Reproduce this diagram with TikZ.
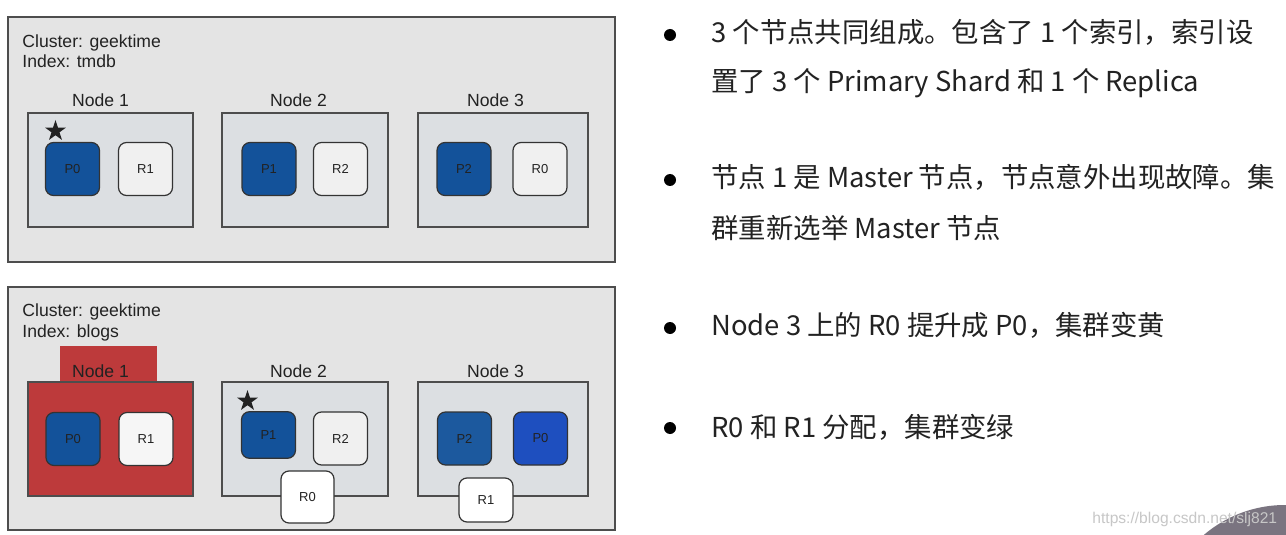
\documentclass[tikz,border=0pt]{standalone}
\usepackage{fontspec}
\setmainfont{Liberation Sans}
\newfontfamily\cjk{Noto Sans CJK SC}
\usepackage{tikz}
\usetikzlibrary{shapes.geometric}
\definecolor{panelgray}{HTML}{E4E4E4}
\definecolor{hostgray}{HTML}{DCDFE2}
\definecolor{edgegray}{HTML}{4D4D4D}
\definecolor{primblue}{HTML}{13529A}
\definecolor{promoblue}{HTML}{1E4FBF}
\definecolor{downred}{HTML}{BD3A3B}
\definecolor{replgray}{HTML}{F0F0F0}
\definecolor{inkgray}{HTML}{222222}
\definecolor{cornergray}{HTML}{7A7480}

\begin{document}
\begin{tikzpicture}[x=0.5pt,y=-0.5pt,
  panel/.style={draw=edgegray,fill=panelgray,line width=0.6pt,inner sep=0pt},
  hostbox/.style={draw=edgegray,fill=hostgray,line width=0.6pt,inner sep=0pt,minimum height=57pt},
  shard/.style={draw=black!80,rounded corners=4pt,line width=0.6pt,minimum width=27pt,minimum height=26.5pt,inner sep=0pt,text=inkgray,font=\fontsize{6.5}{7}\selectfont},
  primary/.style={shard,fill=primblue},
  replica/.style={shard,fill=replgray},
  master/.style={star,star points=5,star point ratio=2.6,fill=inkgray,minimum size=11pt,inner sep=0pt},
  caption/.style={anchor=base west,inner sep=0pt,text=inkgray,font=\fontsize{8.8}{10}\selectfont},
  hostlabel/.style={anchor=base,text=inkgray,font=\fontsize{8.8}{10}\selectfont},
  dot/.style={circle,fill=black,minimum size=6pt,inner sep=0pt},
  bulletline/.style={anchor=base west,inner sep=0pt,text=inkgray,font=\cjk\fontsize{13.7}{16}\selectfont}]
\useasboundingbox[fill=white] (0,0) rectangle (1286,535);

% top cluster: index tmdb
\node[panel,minimum width=303.5pt,minimum height=122.5pt] (top) at (311.5,139.5) {};
\node[caption] (topclu) at (22,48) {Cluster: geektime};
\node[caption] (topidx) at (22,68) {Index: tmdb};
\node[hostlabel] (toplab1) at (100.5,107) {Node 1};
\node[hostlabel] (toplab2) at (298.5,107) {Node 2};
\node[hostlabel] (toplab3) at (495.5,107) {Node 3};
\node[hostbox,minimum width=82.5pt] (top1) at (110.5,170) {};
\node[hostbox,minimum width=83pt] (top2) at (305,170) {};
\node[hostbox,minimum width=85pt] (top3) at (503,170) {};
\node[master] (topstar) at (55.5,131) {};
\node[primary] (topp0) at (72.5,169) {P0};
\node[replica] (topr1) at (145.5,169) {R1};
\node[primary] (topp1) at (269,169) {P1};
\node[replica] (topr2) at (340.5,169) {R2};
\node[primary] (topp2) at (464,169) {P2};
\node[replica] (topr0) at (540,169) {R0};

% bottom cluster: index blogs, node 1 down
\node[panel,minimum width=303.5pt,minimum height=121.5pt] (bot) at (311.5,408.5) {};
\node[caption] (botclu) at (22,316) {Cluster: geektime};
\node[caption] (botidx) at (22,337) {Index: blogs};
\node[fill=downred,minimum width=48.5pt,minimum height=18pt,inner sep=0pt] (bottab) at (108.5,364) {};
\node[hostlabel] (botlab1) at (100.5,377) {Node 1};
\node[hostlabel] (botlab2) at (298.5,377) {Node 2};
\node[hostlabel] (botlab3) at (495.5,377) {Node 3};
\node[hostbox,fill=downred,minimum width=82.5pt] (bot1) at (110.5,439) {};
\node[hostbox,minimum width=83pt] (bot2) at (305,439) {};
\node[hostbox,minimum width=85pt] (bot3) at (503,439) {};
\node[master] (botstar) at (247.5,401) {};
\node[primary] (botp0) at (73,439) {P0};
\node[replica,fill=replgray!60!white] (botr1) at (146,439) {R1};
\node[primary,minimum height=23.3pt] (botp1) at (268.5,435) {P1};
\node[replica] (botr2) at (340.5,438.5) {R2};
\node[primary,fill=primblue!96!white] (botp2) at (464.5,438.5) {P2};
\node[primary,fill=promoblue] (botp0new) at (540.5,438.5) {P0};
\node[replica,fill=white,minimum width=26.5pt,minimum height=26pt] (botr0) at (307.5,497) {R0};
\node[replica,fill=white,minimum height=22pt] (botr1new) at (486,500) {R1};

% notes
\node[dot] (dot1) at (670,35) {};
\node[bulletline] (line1) at (711,43) {3 个节点共同组成。包含了 1 个索引，索引设};
\node[bulletline] (line2) at (711,92) {置了 3 个 Primary Shard 和 1 个 Replica};
\node[dot] (dot2) at (670,180) {};
\node[bulletline] (line3) at (711,188) {节点 1 是 Master 节点，节点意外出现故障。集};
\node[bulletline] (line4) at (711,238) {群重新选举 Master 节点};
\node[dot] (dot3) at (670,328) {};
\node[bulletline] (line5) at (711,335) {Node 3 上的 R0 提升成 P0，集群变黄};
\node[dot] (dot4) at (670,428) {};
\node[bulletline] (line6) at (711,437) {R0 和 R1 分配，集群变绿};

% corner
\begin{scope}
\clip (0,0) rectangle (1286,535);
\fill[cornergray] (1285,630) circle[radius=125];
\end{scope}
\node[anchor=base west,inner sep=0pt,text=black!22,font=\fontsize{7.8}{9}\selectfont] (mark) at (1092,523) {https://blog.csdn.net/slj821};
\end{tikzpicture}
\end{document}
